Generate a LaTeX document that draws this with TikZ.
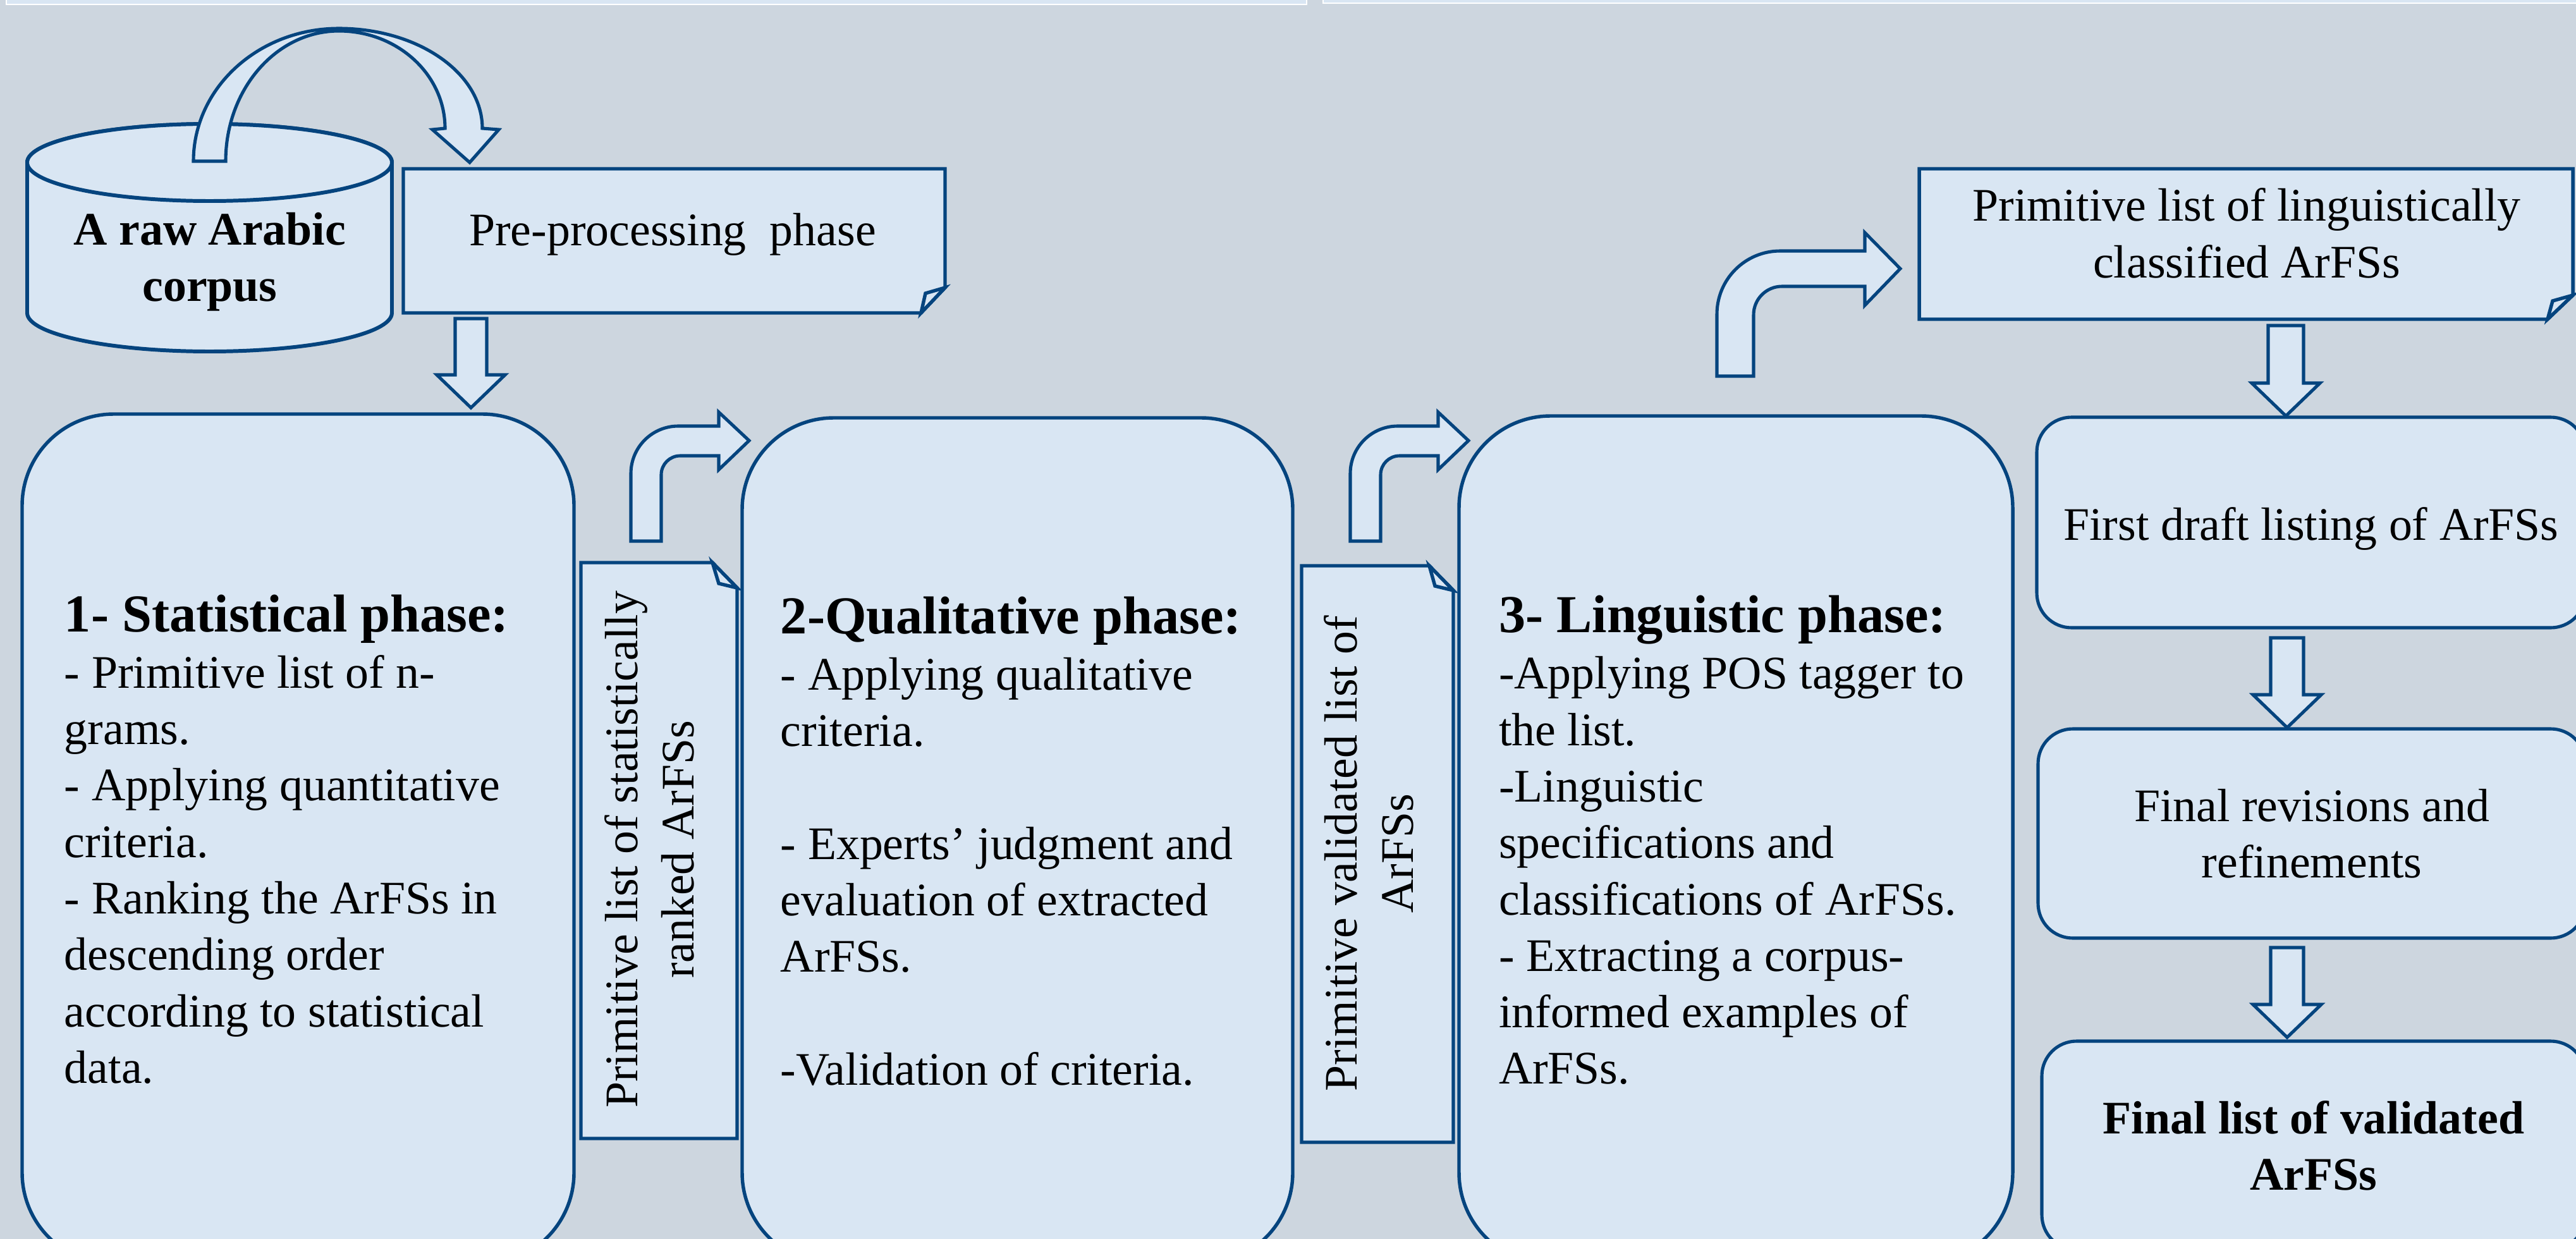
\documentclass[tikz,border=0pt]{standalone}
\usepackage{fontspec}
\setmainfont{Liberation Serif}
\usetikzlibrary{positioning}

\definecolor{bgcol}{RGB}{205,214,223}
\definecolor{boxfill}{RGB}{217,230,243}
\definecolor{edge}{RGB}{5,68,126}

\newcommand{\phasehead}[1]{{\fontsize{24}{25.4}\selectfont\bfseries #1}}

\begin{document}
\begin{tikzpicture}[
  font=\fontsize{21}{25.4}\selectfont,
  phasebox/.style={draw=edge, line width=1.55pt, fill=boxfill, rounded corners=1.45cm},
  stagebox/.style={draw=edge, line width=1.45pt, fill=boxfill, rounded corners=0.55cm, align=center},
  notebox/.style={draw=edge, line width=1.55pt, fill=boxfill},
  blockarrow/.style={draw=edge, line width=1.45pt, fill=boxfill},
  phasetext/.style={anchor=west, align=left, inner sep=0pt}
]
\useasboundingbox (0,0) rectangle (40.75,-19.6);
\clip (0,0) rectangle (40.75,-19.6);
\fill[bgcol] (0,0) rectangle (40.75,-19.6);
\draw[white, fill=boxfill, line width=0.8pt] (0.10,0.3) rectangle (20.67,-0.07);
\draw[white, fill=boxfill, line width=0.8pt] (20.93,0.3) rectangle (40.90,-0.05);

% corpus and pre-processing
\path[notebox, line width=1.7pt] (0.43,-2.57) -- (0.43,-4.95) arc[start angle=180, end angle=360, x radius=2.885, y radius=0.61]
  -- (6.20,-2.57) arc[start angle=0, end angle=180, x radius=2.885, y radius=0.61] -- cycle;
\draw[notebox, line width=1.7pt] (3.315,-2.57) ellipse[x radius=2.885, y radius=0.61];
\node[font=\fontsize{21}{25.4}\selectfont\bfseries, align=center] (corpus) at (3.32,-4.14) {A raw Arabic\\corpus};
\draw[blockarrow] (3.06,-2.55) arc[start angle=180, end angle=90, x radius=2.30, y radius=2.10]
  arc[start angle=90, end angle=0, x radius=2.27, y radius=1.58] -- (7.89,-2.05) -- (7.43,-2.57) -- (6.84,-2.05)
  -- (7.04,-2.03) arc[start angle=0, end angle=90, x radius=1.68, y radius=1.54]
  arc[start angle=90, end angle=180, x radius=1.79, y radius=2.06] -- cycle;
\draw[notebox] (6.38,-2.67) -- (14.95,-2.67) -- (14.95,-4.55) -- (14.57,-4.95) -- (6.38,-4.95) -- cycle;
\draw[notebox] (14.95,-4.55) -- (14.64,-4.64) -- (14.57,-4.95) -- cycle;
\node (pre) at (10.64,-3.71) {Pre-processing~ phase};

% the three phases
\node[phasebox, minimum width=8.73cm, minimum height=13.45cm] (stat) at (4.715,-13.275) {};
\node[phasebox, minimum width=8.71cm, minimum height=13.39cm] (qual) at (16.095,-13.305) {};
\node[phasebox, minimum width=8.76cm, minimum height=13.42cm] (ling) at (27.46,-13.29) {};
\node[phasetext, right=0.69cm of stat.west] (stattext) {\phasehead{1- Statistical phase:}\\
- Primitive list of n-\\
grams.\\
- Applying quantitative\\
criteria.\\
- Ranking the ArFSs in\\
descending order\\
according to statistical\\
data.};
\node[phasetext, right=0.63cm of qual.west] (qualtext) {\phasehead{2-Qualitative phase:}\\
- Applying qualitative\\
criteria.\\
~\\
- Experts' judgment and\\
evaluation of extracted\\
ArFSs.\\
~\\
-Validation of criteria.};
\node[phasetext, right=0.65cm of ling.west] (lingtext) {\phasehead{3- Linguistic phase:}\\
-Applying POS tagger to\\
the list.\\
-Linguistic\\
specifications and\\
classifications of ArFSs.\\
- Extracting a corpus-\\
informed examples of\\
ArFSs.};

% intermediate lists
\draw[notebox] (9.19,-8.90) -- (11.27,-8.90) -- (11.66,-9.30) -- (11.66,-18.01) -- (9.19,-18.01) -- cycle;
\draw[notebox] (11.27,-8.90) -- (11.37,-9.23) -- (11.66,-9.30) -- cycle;
\draw[notebox] (20.59,-8.95) -- (22.61,-8.95) -- (22.99,-9.34) -- (22.99,-18.07) -- (20.59,-18.07) -- cycle;
\draw[notebox] (22.61,-8.95) -- (22.70,-9.27) -- (22.99,-9.34) -- cycle;
\node[rotate=90, align=center] (ranked) at (10.27,-13.44) {Primitive list of statistically\\ranked ArFSs};
\node[rotate=90, align=center] (validated) at (21.65,-13.50) {Primitive validated list of\\ArFSs};
\foreach \dx in {0,11.38}
  \draw[blockarrow, xshift=\dx cm] (9.98,-8.56) -- ++(0,1.07) arc[start angle=180, end angle=90, radius=0.75]
    -- (11.37,-6.74) -- ++(0,0.22) -- (11.85,-6.97) -- (11.37,-7.43) -- ++(0,0.22)
    -- (10.76,-7.21) arc[start angle=90, end angle=180, radius=0.30] -- (10.46,-8.56) -- cycle;
\draw[blockarrow] (27.16,-5.95) -- (27.16,-4.97) arc[start angle=180, end angle=90, radius=1.0]
  -- (29.50,-3.97) -- (29.50,-3.68) -- (30.06,-4.25) -- (29.50,-4.83) -- (29.50,-4.53)
  -- (28.19,-4.53) arc[start angle=90, end angle=180, radius=0.45] -- (27.74,-5.95) -- cycle;

% right column
\draw[notebox] (30.36,-2.67) -- (40.70,-2.67) -- (40.70,-4.67) -- (40.30,-5.05) -- (30.36,-5.05) -- cycle;
\draw[notebox] (40.70,-4.67) -- (40.38,-4.76) -- (40.30,-5.05) -- cycle;
\node[align=center] (primling) at (35.54,-3.69) {Primitive list of linguistically\\classified ArFSs};
\node[stagebox, minimum width=8.68cm, minimum height=3.33cm, text height=0.71cm] (draft) at (36.56,-8.265) {First draft listing of ArFSs};
\node[stagebox, minimum width=8.66cm, minimum height=3.31cm] (revise) at (36.57,-13.185) {Final revisions and\\refinements};
\node[stagebox, minimum width=8.60cm, minimum height=3.30cm, font=\fontsize{21}{25.4}\selectfont\bfseries] (final) at (36.60,-18.12) {Final list of validated\\ArFSs};

\foreach \x/\ya/\yb/\w in {7.45/-5.04/-6.45/0.25, 36.16/-5.15/-6.58/0.28, 36.18/-10.09/-11.51/0.26, 36.18/-14.99/-16.41/0.26}
  \draw[blockarrow] (\x-\w,\ya) -- (\x+\w,\ya) -- (\x+\w,\yb+0.52) -- (\x+0.54,\yb+0.52) -- (\x,\yb)
    -- (\x-0.54,\yb+0.52) -- (\x-\w,\yb+0.52) -- cycle;
\end{tikzpicture}
\end{document}
